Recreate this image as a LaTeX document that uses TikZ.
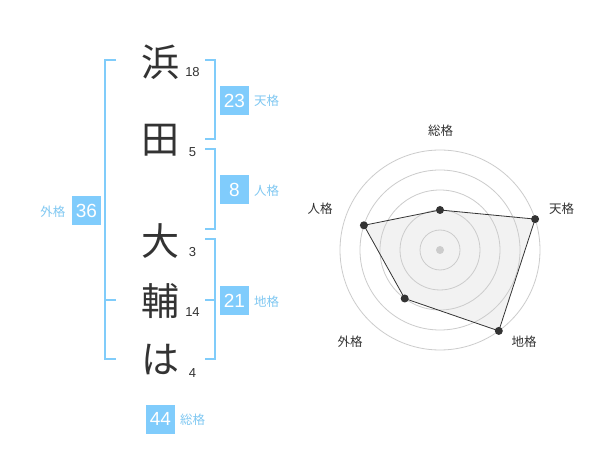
\documentclass[tikz,border=0pt]{standalone}
\usepackage{fontspec}
\setmainfont{Liberation Sans}
\newfontfamily\jpfont{Noto Sans CJK JP}
\begin{document}
\begin{tikzpicture}[x=1pt,y=-1pt,
  bracket/.style={draw=blueline,line width=2pt},
  numbox/.style={fill=boxblue,text=white,minimum width=29pt,minimum height=29pt,inner sep=0pt,font=\fontsize{19}{19}\selectfont},
  kaku/.style={text=lblue,font=\jpfont\fontsize{12.5}{13}\selectfont,inner sep=0pt},
  kanji/.style={text=darktext,font=\jpfont\fontsize{38}{38}\selectfont,inner sep=0pt},
  stroke/.style={text=darktext,font=\fontsize{13}{13}\selectfont,inner sep=0pt},
  ring/.style={draw=ringgray,line width=0.8pt},
  rlabel/.style={text=darktext,font=\jpfont\fontsize{12.5}{13}\selectfont,inner sep=0pt},
  dot/.style={circle,fill=darktext,inner sep=0pt,minimum size=8pt}
]
\definecolor{blueline}{HTML}{80CCFA}
\definecolor{boxblue}{HTML}{80CCFC}
\definecolor{lblue}{HTML}{80C8F2}
\definecolor{darktext}{HTML}{333333}
\definecolor{ringgray}{HTML}{CCCCCC}
\definecolor{fillgray}{HTML}{F2F2F2}
\useasboundingbox (0,0) rectangle (600,470);
\fill[white] (0,0) rectangle (600,470);

% kanji
\node[kanji] (k1) at (160,62) {浜};
\node[kanji] (k2) at (160,140) {田};
\node[kanji] (k3) at (160,241) {大};
\node[kanji] (k4) at (160,301) {輔};
\node[kanji] (k5) at (160,360) {は};
% stroke counts
\node[stroke] (s1) at (192.5,72.5) {18};
\node[stroke] (s2) at (192.5,152.5) {5};
\node[stroke] (s3) at (192.5,252.5) {3};
\node[stroke] (s4) at (192.5,312.5) {14};
\node[stroke] (s5) at (192.5,373) {4};

% brackets
\draw[bracket] (116,60) -- (105,60) -- (105,359.5) -- (116,359.5);
\draw[bracket] (105,300) -- (116,300);
\draw[bracket] (205,60) -- (214.5,60) -- (214.5,139.5) -- (205,139.5);
\draw[bracket] (205,149.5) -- (214.5,149.5) -- (214.5,229.5) -- (205,229.5);
\draw[bracket] (205,239.5) -- (214.5,239.5) -- (214.5,359.5) -- (205,359.5);
\draw[bracket] (205,300) -- (214.5,300);

% boxes
\node[numbox] (b23) at (234.5,100.5) {23};
\node[kaku,anchor=west] (l23) at (254,101) {天格};
\node[numbox] (b8) at (234.5,190) {8};
\node[kaku,anchor=west] (l8) at (254,191) {人格};
\node[numbox] (b21) at (234.5,300.5) {21};
\node[kaku,anchor=west] (l21) at (254,301.5) {地格};
\node[numbox] (b36) at (86.5,210.5) {36};
\node[kaku,anchor=east] (l36) at (65.5,211.5) {外格};
\node[numbox] (b44) at (160.5,419) {44};
\node[kaku,anchor=west] (l44) at (180,419.5) {総格};

% radar
\coordinate (c) at (440,250);
\path (c) ++(0,-40) coordinate (pS);
\path (c) ++(95.1,-30.9) coordinate (pT);
\path (c) ++(58.8,80.9) coordinate (pC);
\path (c) ++(-35.3,48.5) coordinate (pG);
\path (c) ++(-76.1,-24.7) coordinate (pJ);
\fill[fillgray] (pS) -- (pT) -- (pC) -- (pG) -- (pJ) -- cycle;
\foreach \r in {20,40,60,80,100} \draw[ring] (c) circle[radius=\r];
\node[circle,fill=ringgray,inner sep=0pt,minimum size=8pt] (cd) at (c) {};
\draw[draw=darktext,line width=0.8pt] (pS) -- (pT) -- (pC) -- (pG) -- (pJ) -- cycle;
\foreach \p in {pS,pT,pC,pG,pJ} \node[dot] at (\p) {};
\node[rlabel] (rS) at (440.5,130.5) {総格};
\node[rlabel] (rT) at (561.5,208.5) {天格};
\node[rlabel] (rJ) at (320,208.5) {人格};
\node[rlabel] (rG) at (350,342) {外格};
\node[rlabel] (rC) at (524,342) {地格};
\end{tikzpicture}
\end{document}
